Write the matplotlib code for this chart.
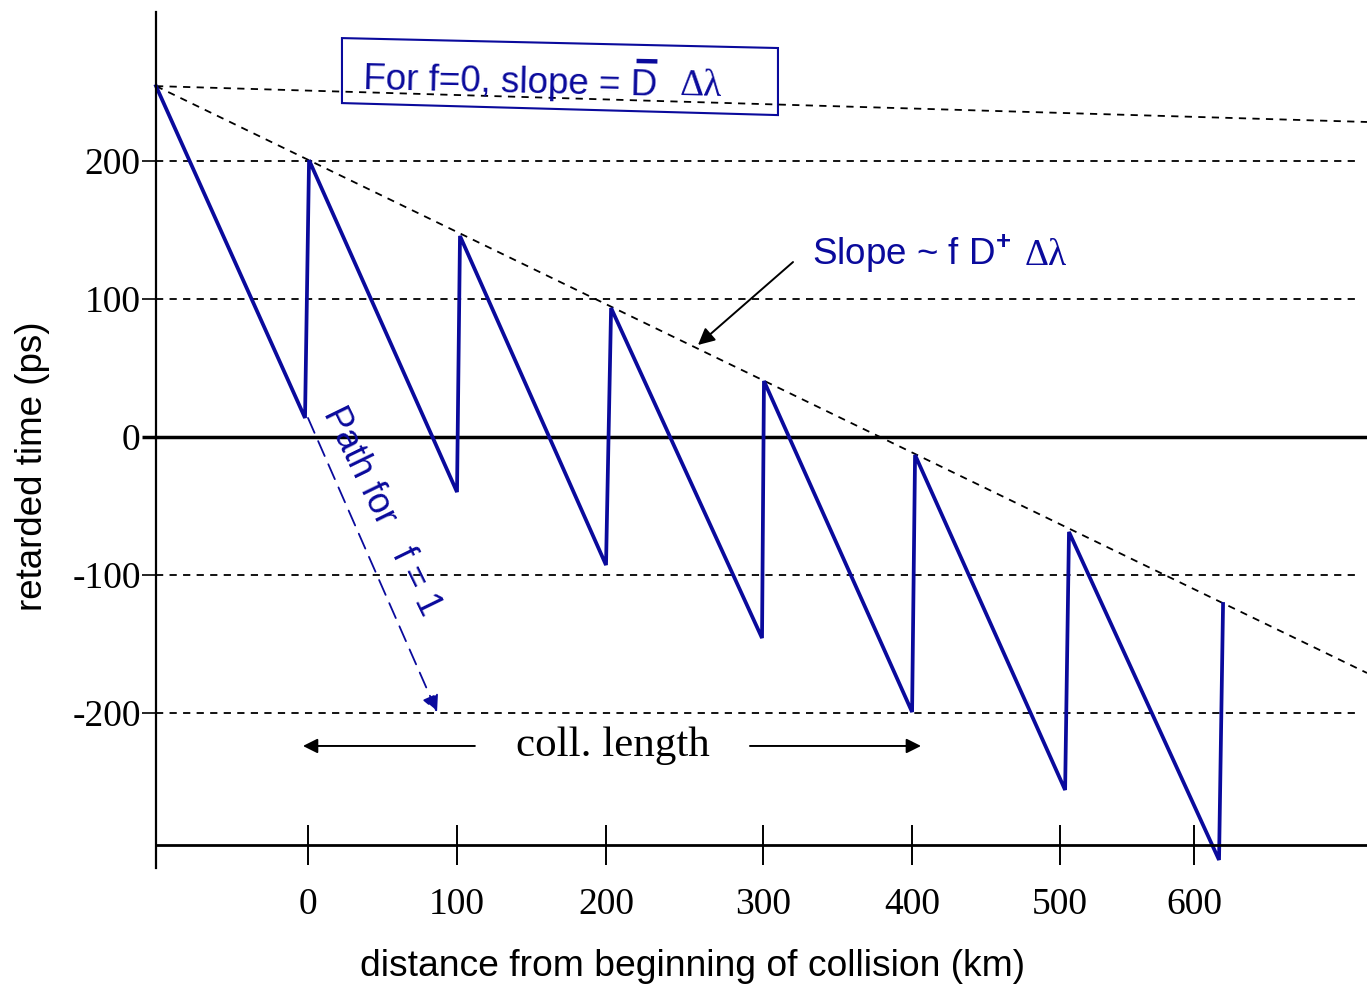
import matplotlib.pyplot as plt
from matplotlib.patches import Polygon

plt.rcParams['mathtext.fontset'] = 'custom'
plt.rcParams['mathtext.rm'] = 'Liberation Sans'
plt.rcParams['mathtext.bf'] = 'Liberation Sans:bold'

blue = '#0a0a9c'
serif = 'Liberation Serif'
sans = 'Liberation Sans'

# sawtooth path of the retarded time (km, ps)
saw_x = [-102.0, -2.0, 0.7, 100.0, 102.0, 200.0, 203.4, 304.7, 306.0,
         405.4, 407.4, 508.1, 510.7, 611.4, 614.1]
saw_y = [254.3, 13.8, 200.7, -39.9, 145.7, -92.8, 93.5, -145.7, 40.6,
         -199.3, -13.0, -255.8, -68.8, -306.5, -121.0]

# envelope lines
slope_x = [-102.0, 710.7]
slope_y = [254.3, -171.0]
f0_x = [-102.0, 710.7]
f0_y = [254.3, 228.3]

# path for f = 1
f1_x = [0.0, 86.6]
f1_y = [13.8, -199.3]

grid_y = [200, 100, -100, -200]
ytick_vals = [200, 100, 0, -100, -200]
xtick_pos = [0, 100, 200, 305.4, 405.4, 504.7, 594.6]
xtick_labels = ['0', '100', '200', '300', '400', '500', '600']

fig = plt.figure(figsize=(13.67, 9.84), dpi=100)
ax = fig.add_axes([0, 0, 1, 1])
ax.set_xlim(-206.7, 710.7)
ax.set_ylim(-396.4, 316.7)
ax.patch.set_visible(False)

dash = (0, (4, 3.5))
for g in grid_y:
    ax.plot([-102, 702.7], [g, g], color='black', lw=1.3, ls=dash)
ax.plot([-102, 710.7], [0, 0], color='black', lw=2.5)
ax.plot(slope_x, slope_y, color='black', lw=1.3, ls=dash)
ax.plot(f0_x, f0_y, color='black', lw=1.3, ls=dash)

ax.plot(saw_x, saw_y, color=blue, lw=2.7, solid_joinstyle='miter')

# f = 1 path arrow
ax.annotate('', xy=(f1_x[1], f1_y[1]), xytext=(f1_x[0], f1_y[0]),
            arrowprops=dict(arrowstyle='-|>', color=blue, lw=1.3, ls=(0, (9, 5)),
                            mutation_scale=25, shrinkA=0, shrinkB=0))
ax.text(49, -54, 'Path for   f = 1', color=blue, fontsize=26, family=sans,
        rotation=-64, ha='center', va='center', rotation_mode='anchor')

# slope annotation
ax.annotate('', xy=(261.7, 66.7), xytext=(325.5, 126.8),
            arrowprops=dict(arrowstyle='-|>', color='black', lw=1.4,
                            mutation_scale=25, shrinkA=0, shrinkB=0))
ax.text(338.3, 125.0, r'Slope ~ f D$^{\mathbf{+}}$', color=blue, fontsize=26.5,
        family=sans, ha='left', va='baseline')
ax.text(481.2, 125.0, 'Δλ', color=blue, fontsize=27, family=serif,
        ha='left', va='baseline')

# f = 0 box
box = Polygon([(22.8, 289.1), (315.4, 281.9), (315.4, 233.3), (22.8, 242.0)],
              closed=True, fill=False, edgecolor=blue, lw=1.5)
ax.add_patch(box)
ax.text(36.9, 252.5, 'For f=0, slope = D', color=blue,
        fontsize=26.5, family=sans, ha='left', va='baseline', rotation=-1.3,
        rotation_mode='anchor')
ax.plot([220.5, 234.5], [272.5, 272.2], color=blue, lw=3.2,
        solid_capstyle='butt')
ax.text(249.7, 247.5, 'Δλ', color=blue, fontsize=27, family=serif,
        ha='left', va='baseline', rotation=-1.3, rotation_mode='anchor')

# collision length
ax.text(204.7, -223.9, 'coll. length', fontsize=31, family=serif,
        ha='center', va='center')
for x0, x1 in [(112, -3.4), (296.6, 411.4)]:
    ax.annotate('', xy=(x1, -223.9), xytext=(x0, -223.9),
                arrowprops=dict(arrowstyle='-|>', color='black', lw=1.4,
                                mutation_scale=22, shrinkA=0, shrinkB=0))

# axes
for s in ['top', 'right']:
    ax.spines[s].set_visible(False)
ax.spines['left'].set_position(('data', -102))
ax.spines['left'].set_bounds(-312, 308)
ax.spines['left'].set_linewidth(1.6)
ax.spines['bottom'].set_position(('data', -295.7))
ax.spines['bottom'].set_bounds(-102, 710.7)
ax.spines['bottom'].set_linewidth(2.0)

ax.set_yticks(ytick_vals)
ax.set_yticklabels([str(v) for v in ytick_vals])
ax.tick_params(axis='y', direction='out', length=10, width=1.2, pad=1,
               labelsize=27)
ax.yaxis.get_major_ticks()[2].tick1line.set_markeredgewidth(2.5)
ax.set_xticks(xtick_pos)
ax.set_xticklabels(xtick_labels)
ax.tick_params(axis='x', direction='inout', length=29, width=1.4, pad=16,
               labelsize=27)
for lab in ax.get_xticklabels() + ax.get_yticklabels():
    lab.set_family(serif)

fig.text(33 / 1367, 1 - 466 / 984, 'retarded time (ps)', rotation=90,
         fontsize=26.5, family=sans, ha='center', va='center')
fig.text(693 / 1367, 1 - 966 / 984, 'distance from beginning of collision (km)',
         fontsize=26.8, family=sans, ha='center', va='center')

fig.savefig('out.png', dpi=100)
